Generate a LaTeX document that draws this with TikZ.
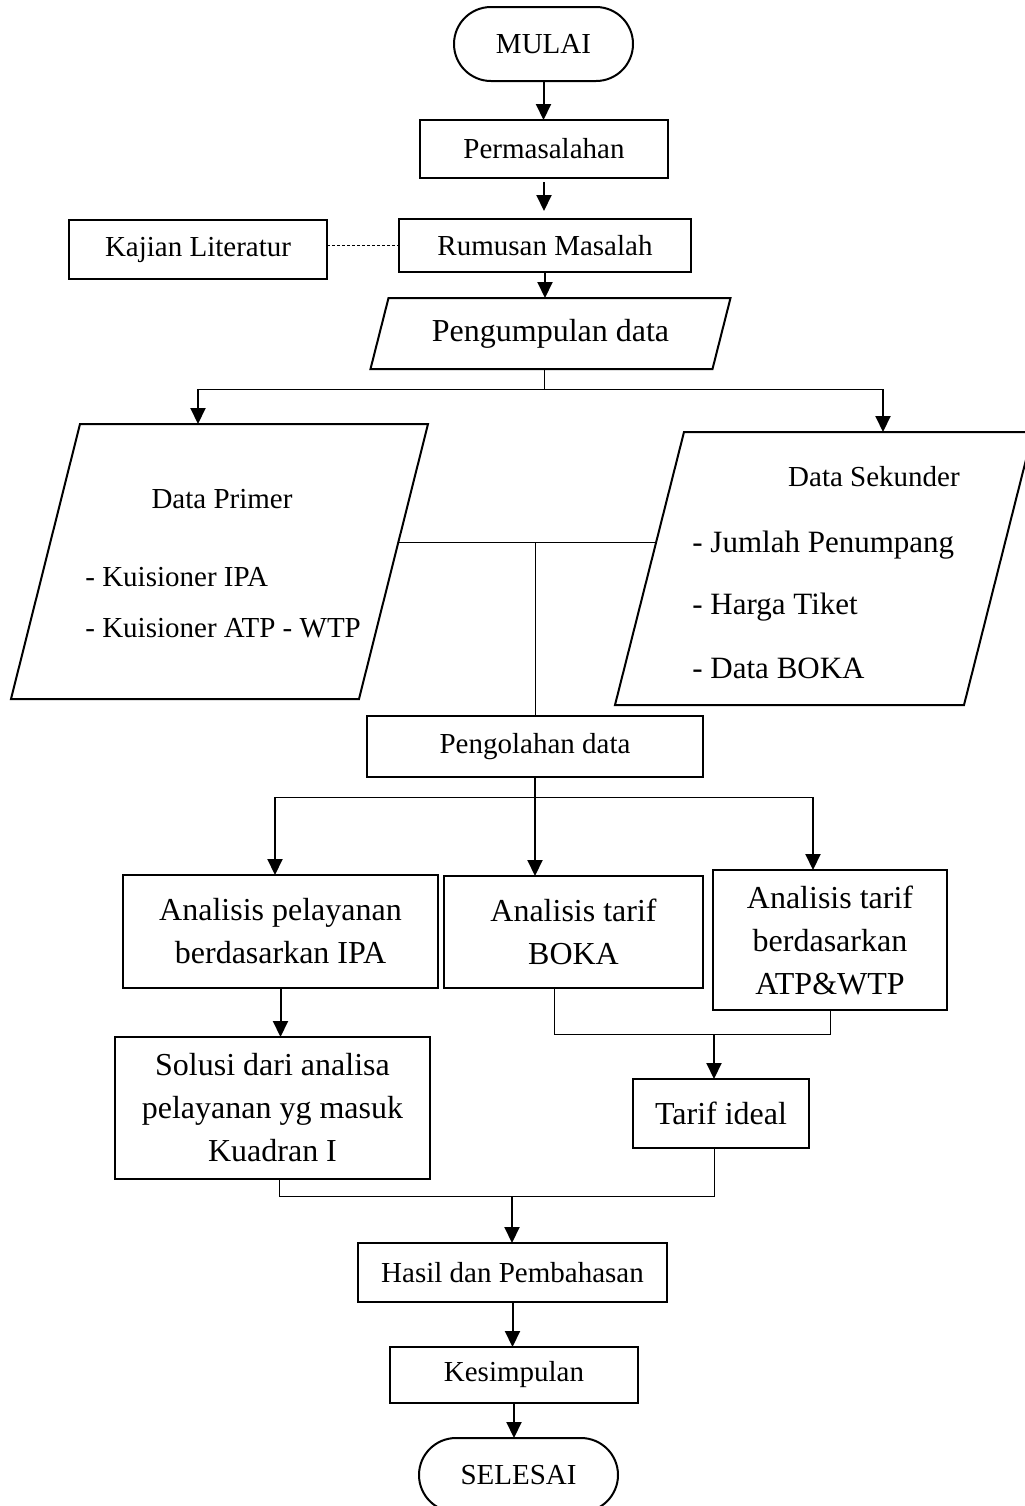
\documentclass[tikz,border=0pt]{standalone}
\usepackage{fontspec}
\setmainfont{Liberation Serif}
\usetikzlibrary{arrows.meta,calc}

\begin{document}
\begin{tikzpicture}[x=0.5pt, y=-0.5pt,
	box/.style={draw, line width=1pt, inner sep=0pt, outer sep=0pt, align=center, font=\fontsize{14.5}{18}\selectfont},
	bigbox/.style={box, font=\fontsize{16}{21.5}\selectfont},
	term/.style={box, rounded corners=18.5pt},
	slot/.style={inner sep=0pt, outer sep=0pt, font=\fontsize{14.5}{18}\selectfont},
	txt/.style={inner sep=0pt, font=\fontsize{14.5}{18}\selectfont, text height=9.6pt, text depth=0pt},
	bigtxt/.style={txt, font=\fontsize{15.5}{18}\selectfont, text height=10.2pt},
	arr/.style={line width=1pt, -{Triangle[length=8pt,width=7.5pt]}},
	link/.style={line width=0.5pt}]
		\useasboundingbox (0,0) rectangle (1024,1506);
		\node[term, minimum width=89.5pt, minimum height=37pt] (mulai) at (543.5,44){MULAI};
		\node[box, minimum width=124pt, minimum height=29pt] (perm) at (544,149){Permasalahan};
		\node[box, minimum width=146pt, minimum height=26.5pt] (rumus) at (545,245.5){Rumusan Masalah};
		\node[box, minimum width=129pt, minimum height=29.5pt] (kajian) at (198,249.5){Kajian Literatur};
		\node[slot, font=\fontsize{16}{18}\selectfont, minimum width=171pt, minimum height=35.5pt] (kumpul) at (550.5,333.5){Pengumpulan data};
		\node[slot, minimum width=174pt, minimum height=137.5pt] (primer) at (219.5,561.5){};
		\node[slot, minimum width=174.5pt, minimum height=136.5pt] (sekunder) at (824,568.5){};
		\foreach \n/\s in {kumpul/9, primer/34.5, sekunder/34.5}
			\draw[line width=1pt] ($(\n.north west)+(\s,0)$) -- ($(\n.north east)+(\s,0)$) -- ($(\n.south east)-(\s,0)$) -- ($(\n.south west)-(\s,0)$) -- cycle;
		\node[txt] (primt) at (222,499){Data Primer};
		\node[txt, anchor=west] (prim1) at (85,577){- Kuisioner IPA};
		\node[txt, anchor=west] (prim2) at (85,628){- Kuisioner ATP - WTP};
		\node[txt] (sekt) at (874,477){Data Sekunder};
		\node[bigtxt, anchor=west] (sek1) at (692,542){- Jumlah Penumpang};
		\node[bigtxt, anchor=west] (sek2) at (692,604){- Harga Tiket};
		\node[bigtxt, anchor=west] (sek3) at (692,668){- Data BOKA};
		\node[box, minimum width=168pt, minimum height=30.5pt] (olah) at (535,746.5){Pengolahan data};
		\node[bigbox, minimum width=157.5pt, minimum height=56.5pt] (layan) at (280.5,931.5){Analisis pelayanan\\berdasarkan IPA};
		\node[bigbox, minimum width=129.5pt, minimum height=56pt] (boka) at (573.5,932){Analisis tarif\\BOKA};
		\node[bigbox, minimum width=117pt, minimum height=70pt] (atp) at (830,940){Analisis tarif\\berdasarkan\\ATP\&WTP};
		\node[bigbox, minimum width=157.5pt, minimum height=71pt] (solusi) at (272.5,1108){Solusi dari analisa\\pelayanan yg masuk\\Kuadran I};
		\node[bigbox, minimum width=88pt, minimum height=34.5pt] (tarif) at (721,1113.5){Tarif ideal};
		\node[box, minimum width=154.5pt, minimum height=29.5pt] (hasil) at (512.5,1272.5){Hasil dan Pembahasan};
		\node[box, minimum width=124pt, minimum height=28pt] (kesim) at (514,1375){Kesimpulan};
		\node[term, minimum width=99.5pt, minimum height=37pt] (selesai) at (518.5,1475){SELESAI};
		% junctions
		\coordinate (split) at (544,389);
		\coordinate (pl) at (198,389);
		\coordinate (pr) at (883,389);
		\coordinate (mL) at (398,542);
		\coordinate (mR) at (656,542);
		\coordinate (bl) at (275,797);
		\coordinate (br) at (813,797);
		\coordinate (tj) at (714,1034);
		\coordinate (hj) at (512,1196);
		% connectors
		\draw[arr] (mulai.south) -- (mulai.south |- perm.north);
		\draw[arr, shorten <=2pt, shorten >=4pt] (perm.south) -- (perm.south |- rumus.north);
		\draw[link, dash pattern=on 1.5pt off 1pt] (rumus.west -| kajian.east) -- (rumus.west);
		\draw[arr] (rumus.south) -- (rumus.south |- kumpul.north);
		\draw[link] (split |- kumpul.south) -- (split);
		\draw[link] (pl) -- (pr);
		\draw[arr] (pl) -- (pl |- primer.north);
		\draw[arr] (pr) -- (pr |- sekunder.north);
		\draw[link] (mL) -- (mR);
		\draw[link] (mL -| olah.north) -- (olah.north);
		\draw[link] (bl) -- (br);
		\draw[arr] (bl) -- (bl |- layan.north);
		\draw[arr] (olah.south) -- (olah.south |- boka.north);
		\draw[arr] (br) -- (br |- atp.north);
		\draw[arr] (layan.south) -- (layan.south |- solusi.north);
		\draw[link] ($(boka.south)+(-19.5,0)$) |- (tj) -| (atp.south);
		\draw[arr] (tj) -- (tj |- tarif.north);
		\draw[link] ($(solusi.south)+(6.5,0)$) |- (hj) -| ($(tarif.south)+(-7,0)$);
		\draw[arr] (hj) -- (hj |- hasil.north);
		\draw[arr] (hasil.south) -- (hasil.south |- kesim.north);
		\draw[arr] (kesim.south) -- (kesim.south |- selesai.north);
\end{tikzpicture}
\end{document}
